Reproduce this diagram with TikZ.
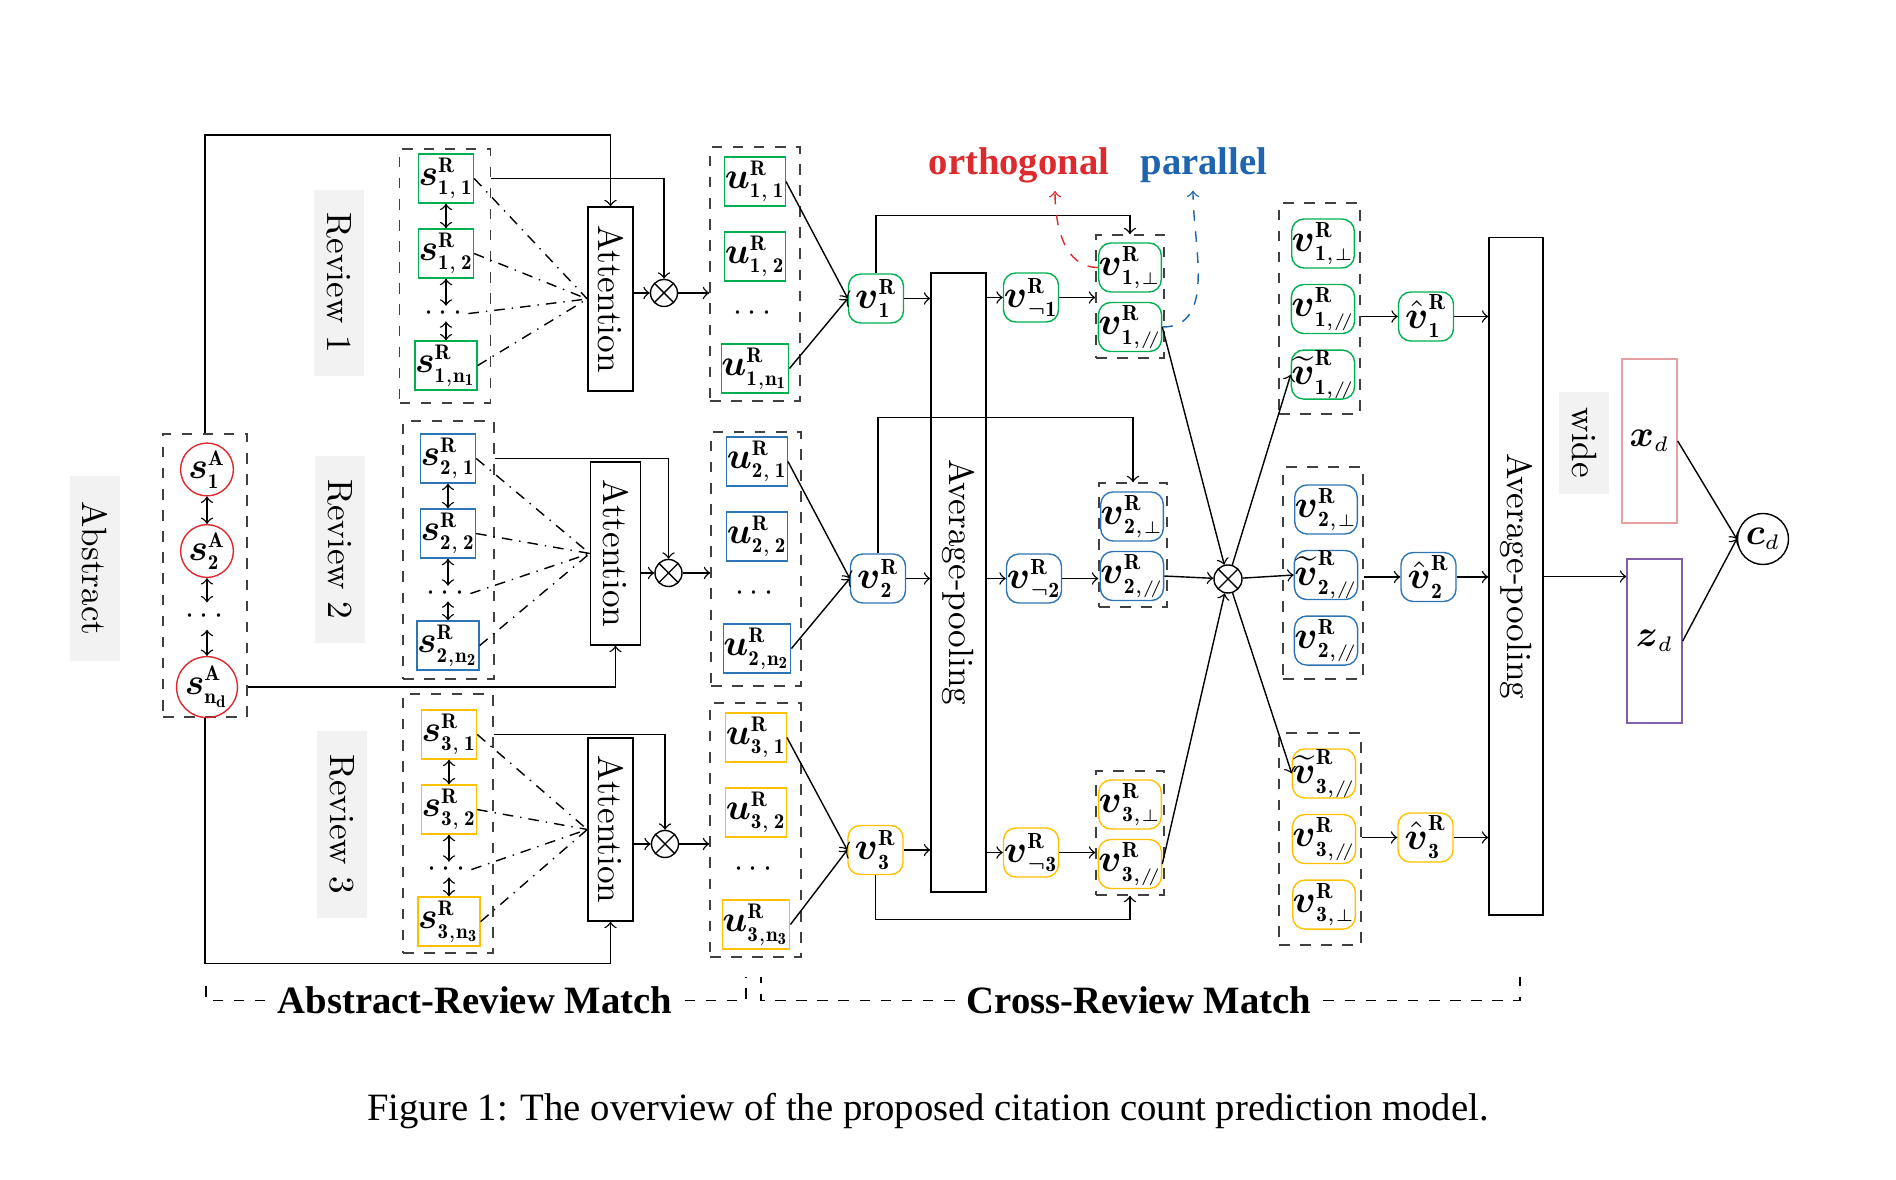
\RequirePackage{fix-cm}
\documentclass[tikz,border=0pt]{standalone}
\usepackage{amsmath}
\usepackage{graphicx}
\usepackage{fontspec}
\usetikzlibrary{positioning}
\newfontfamily\timesfont{Liberation Serif}
\DeclareMathSizes{10.5}{10.5}{6}{4.8}
\DeclareMathSizes{11}{11}{6.2}{4.8}

\definecolor{cgreen}{HTML}{00B050}
\definecolor{cblue}{HTML}{2E75B6}
\definecolor{cyellow}{HTML}{FFC000}
\definecolor{cred}{HTML}{DD2A2E}
\definecolor{cpar}{HTML}{1F64AE}
\definecolor{cpink}{HTML}{E3A09E}
\definecolor{cpurple}{HTML}{7F5FA8}

\newcommand{\pll}{/\!/}
\newcommand{\sA}[1]{$\boldsymbol{s}^{\mathbf{A}}_{\mathbf{#1}}$}
\newcommand{\sR}[1]{$\boldsymbol{s}^{\mathbf{R}}_{\mathbf{#1}}$}
\newcommand{\uR}[1]{$\boldsymbol{u}^{\mathbf{R}}_{\mathbf{#1}}$}
\newcommand{\vR}[1]{$\boldsymbol{v}^{\mathbf{R}}_{\mathbf{#1}}$}
\newcommand{\vRs}[2]{$\boldsymbol{v}^{\mathbf{R}}_{\mathbf{#1},{\scriptscriptstyle #2}}$}
\newcommand{\vtl}[2]{$\widetilde{\boldsymbol{v}}^{\mathbf{R}}_{\mathbf{#1},{\scriptscriptstyle #2}}$}
\newcommand{\vht}[1]{$\hat{\boldsymbol{v}}^{\mathbf{R}}_{\mathbf{#1}}$}

\begin{document}
\begin{tikzpicture}[x=0.01cm, y=-0.01cm, thin, >=to,
  sbox/.style={draw, rectangle, minimum width=0.55cm, minimum height=0.49cm, inner sep=0pt, font=\fontsize{10.5}{12}\selectfont},
  rbox/.style={sbox, rounded corners=3.5pt, font=\fontsize{11}{13}\selectfont},
  sent/.style={draw=cred, circle, minimum size=0.52cm, inner sep=0pt, font=\fontsize{10.5}{12}\selectfont},
  grp/.style={draw=black!75, dashed, inner sep=0pt},
  lab/.style={fill=black!5, inner sep=0pt, minimum width=0.5cm, minimum height=1.86cm, font=\fontsize{10}{12}\selectfont},
  bar/.style={draw, inner sep=0pt, font=\fontsize{10}{12}\selectfont},
  prod/.style={draw, circle, minimum size=0.27cm, inner sep=0pt, path picture={\draw (path picture bounding box.north west) -- (path picture bounding box.south east) (path picture bounding box.south west) -- (path picture bounding box.north east);}},
  dotnode/.style={inner sep=0pt, minimum height=0.14cm, font=\fontsize{9}{11}\selectfont},
  match/.style={fill=white, font=\timesfont\bfseries\fontsize{11}{13}\selectfont},
  note/.style={font=\timesfont\bfseries\fontsize{11}{13}\selectfont}
]
\useasboundingbox (0,0) rectangle (1896,1180);

\node[lab, minimum height=1.85cm] (abst) at (95,568.5) {\rotatebox{-90}{Abstract}};
\node[lab] (rev1) at (339,283) {\rotatebox{-90}{Review 1}};
\node[lab] (rev2) at (340,549.5) {\rotatebox{-90}{Review 2}};
\node[lab] (rev3) at (342,824.5) {\rotatebox{-90}{Review 3}};
\node[lab, minimum height=1.02cm] (wide) at (1584,443) {\rotatebox{-90}{wide}};

\node[grp, minimum width=0.84cm, minimum height=2.83cm] (abs) at (205,575.5) {};
\node[sent] (sA1) at (207,469.5) {\sA{1}};
\node[sent, node distance=0.815cm, below of=sA1] (sA2) {\sA{2}};
\node[dotnode, minimum height=0.26cm, node distance=0.65cm, below of=sA2] (dA) {$\cdots$};
\node[sent, node distance=0.71cm, below of=dA] (sAn) {\sA{n_d}};
\draw[<->] (sA1) -- (sA2);
\draw[<->] (sA2) -- (dA);
\draw[<->] (dA) -- (sAn);

\node[grp, minimum width=0.905cm, minimum height=2.54cm] (g1) at (445,276) {};
\node[sbox, draw=cgreen] (s11) at (446,178.5) {\sR{1,\,1}};
\node[sbox, draw=cgreen, node distance=0.75cm, below of=s11] (s12) {\sR{1,\,2}};
\node[dotnode, node distance=0.6cm, below of=s12] (d1) {$\cdots$};
\node[sbox, draw=cgreen, node distance=0.52cm, below of=d1] (s1n) {\sR{1,n_1}};
\draw[<->] (s11) -- (s12);
\draw[<->] (s12) -- (d1);
\draw[<->] (d1) -- (s1n);

\node[grp, minimum width=0.91cm, minimum height=2.58cm] (g2) at (448.5,550) {};
\node[sbox, draw=cblue] (s21) at (448,458.5) {\sR{2,\,1}};
\node[sbox, draw=cblue, node distance=0.75cm, below of=s21] (s22) {\sR{2,\,2}};
\node[dotnode, node distance=0.6cm, below of=s22] (d2) {$\cdots$};
\node[sbox, draw=cblue, node distance=0.52cm, below of=d2] (s2n) {\sR{2,n_2}};
\draw[<->] (s21) -- (s22);
\draw[<->] (s22) -- (d2);
\draw[<->] (d2) -- (s2n);

\node[grp, minimum width=0.9cm, minimum height=2.59cm] (g3) at (448,823.5) {};
\node[sbox, draw=cyellow] (s31) at (449,734.5) {\sR{3,\,1}};
\node[sbox, draw=cyellow, node distance=0.75cm, below of=s31] (s32) {\sR{3,\,2}};
\node[dotnode, node distance=0.6cm, below of=s32] (d3) {$\cdots$};
\node[sbox, draw=cyellow, node distance=0.52cm, below of=d3] (s3n) {\sR{3,n_3}};
\draw[<->] (s31) -- (s32);
\draw[<->] (s32) -- (d3);
\draw[<->] (d3) -- (s3n);

\node[bar, minimum width=0.45cm, minimum height=1.84cm] (A1) at (610.5,299) {\rotatebox{-90}{Attention}};
\node[bar, minimum width=0.5cm, minimum height=1.83cm] (A2) at (615.5,553.5) {\rotatebox{-90}{Attention}};
\node[bar, minimum width=0.45cm, minimum height=1.83cm] (A3) at (610.5,829.5) {\rotatebox{-90}{Attention}};
\draw[dash dot] (s11.east) -- (A1.west) (s12.east) -- (A1.west) (d1.east) -- (A1.west) (s1n.east) -- (A1.west);
\draw[dash dot] (s21.east) -- (A2.west) (s22.east) -- (A2.west) (d2.east) -- (A2.west) (s2n.east) -- (A2.west);
\draw[dash dot] (s31.east) -- (A3.west) (s32.east) -- (A3.west) (d3.east) -- (A3.west) (s3n.east) -- (A3.west);
\draw[->] (abs.north) -- ++(0,-298) -| (A1.north);
\draw[->] (abs.east |- sAn) -| (A2.south);
\draw[->] (abs.south) -- ++(0,246) -| (A3.south);

\node[prod] (ot1) at (664,293) {};
\node[prod] (ot2) at (668.5,573) {};
\node[prod] (ot3) at (665,844) {};
\draw[->] (g1.east |- s11) -| (ot1);
\draw[->] (g2.east |- s21) -| (ot2);
\draw[->] (g3.east |- s31) -| (ot3);
\draw[->] (A1.east |- ot1) -- (ot1);
\draw[->] (A2.east |- ot2) -- (ot2);
\draw[->] (A3.east |- ot3) -- (ot3);

\node[grp, minimum width=0.9cm, minimum height=2.54cm] (ug1) at (755,274) {};
\node[sbox, draw=cgreen] (u11) at (755,181.5) {\uR{1,\,1}};
\node[sbox, draw=cgreen, node distance=0.75cm, below of=u11] (u12) {\uR{1,\,2}};
\node[dotnode, node distance=0.57cm, below of=u12] (du1) {$\cdots$};
\node[sbox, draw=cgreen, node distance=0.55cm, below of=du1] (u1n) {\uR{1,n_1}};

\node[grp, minimum width=0.9cm, minimum height=2.54cm] (ug2) at (756,559) {};
\node[sbox, draw=cblue] (u21) at (757,461.5) {\uR{2,\,1}};
\node[sbox, draw=cblue, node distance=0.75cm, below of=u21] (u22) {\uR{2,\,2}};
\node[dotnode, node distance=0.57cm, below of=u22] (du2) {$\cdots$};
\node[sbox, draw=cblue, node distance=0.55cm, below of=du2] (u2n) {\uR{2,n_2}};

\node[grp, minimum width=0.91cm, minimum height=2.54cm] (ug3) at (755.5,830) {};
\node[sbox, draw=cyellow] (u31) at (756,737.5) {\uR{3,\,1}};
\node[sbox, draw=cyellow, node distance=0.75cm, below of=u31] (u32) {\uR{3,\,2}};
\node[dotnode, node distance=0.57cm, below of=u32] (du3) {$\cdots$};
\node[sbox, draw=cyellow, node distance=0.55cm, below of=du3] (u3n) {\uR{3,n_3}};

\draw[->] (ot1) -- (ug1.west |- ot1);
\draw[->] (ot2) -- (ug2.west |- ot2);
\draw[->] (ot3) -- (ug3.west |- ot3);

\node[rbox, draw=cgreen] (v1) at (876,298.5) {\vR{1}};
\node[rbox, draw=cblue] (v2) at (878,578.5) {\vR{2}};
\node[rbox, draw=cyellow] (v3) at (875.5,850) {\vR{3}};
\draw[->] (u11.east) -- (v1.west);
\draw[->] (u1n.east) -- (v1.west);
\draw[->] (u21.east) -- (v2.west);
\draw[->] (u2n.east) -- (v2.west);
\draw[->] (u31.east) -- (v3.west);
\draw[->] (u3n.east) -- (v3.west);

\node[bar, minimum width=0.55cm, minimum height=6.19cm] (avg1) at (958.5,582.5) {\rotatebox{-90}{Average-pooling}};
\draw[->] (v1) -- (avg1.west |- v1);
\draw[->] (v2) -- (avg1.west |- v2);
\draw[->] (v3) -- (avg1.west |- v3);

\node[rbox, draw=cgreen] (vn1) at (1031,297.5) {\vR{\neg 1}};
\node[rbox, draw=cblue] (vn2) at (1034,578.5) {\vR{\neg 2}};
\node[rbox, draw=cyellow] (vn3) at (1031,852.5) {\vR{\neg 3}};
\draw[->] (avg1.east |- vn1) -- (vn1);
\draw[->] (avg1.east |- vn2) -- (vn2);
\draw[->] (avg1.east |- vn3) -- (vn3);

\node[grp, minimum width=0.68cm, minimum height=1.23cm] (pg1) at (1130,296.5) {};
\node[rbox, draw=cgreen] (vp1) at (1130,267.5) {\vRs{1}{\perp}};
\node[rbox, draw=cgreen, node distance=0.595cm, below of=vp1] (vl1) {\vRs{1}{\pll}};
\node[grp, minimum width=0.68cm, minimum height=1.24cm] (pg2) at (1133,545) {};
\node[rbox, draw=cblue] (vp2) at (1132,516.5) {\vRs{2}{\perp}};
\node[rbox, draw=cblue, node distance=0.595cm, below of=vp2] (vl2) {\vRs{2}{\pll}};
\node[grp, minimum width=0.68cm, minimum height=1.24cm] (pg3) at (1130,833) {};
\node[rbox, draw=cyellow] (vp3) at (1130,804.5) {\vRs{3}{\perp}};
\node[rbox, draw=cyellow, node distance=0.595cm, below of=vp3] (vl3) {\vRs{3}{\pll}};
\draw[->] (vn1) -- (pg1.west |- vn1);
\draw[->] (vn2) -- (pg2.west |- vn2);
\draw[->] (vn3) -- (pg3.west |- vn3);
\draw[->] (v1.north) -- ++(0,-58) -| (pg1.north);
\draw[->] (v2.north) -- ++(0,-136) -| (pg2.north);
\draw[->] (v3.south) -- ++(0,44) -| (pg3.south);

\node[note, anchor=base, text=cred] (ortho) at (1019,175) {orthogonal};
\node[note, anchor=base, text=cpar] (para) at (1204,175) {parallel};
\draw[->, dashed, cred] (vp1.west) to[out=180, in=-90] ([xshift=0.36cm, yshift=0.05cm]ortho.south);
\draw[->, dashed, cpar] (vl1.east) to[out=0, in=-90] ([xshift=-0.11cm, yshift=0.05cm]para.south);

\node[prod, minimum size=0.28cm] (otc) at (1228,579) {};
\draw[->] (vl1.east) -- (otc);
\draw[->] (vl2.east) -- (otc);
\draw[->] (vl3.east) -- (otc);

\node[grp, minimum width=0.81cm, minimum height=2.11cm] (rg1) at (1319.5,308.5) {};
\node[rbox, draw=cgreen] (rp1) at (1323,243.5) {\vRs{1}{\perp}};
\node[rbox, draw=cgreen, node distance=0.655cm, below of=rp1] (rl1) {\vRs{1}{\pll}};
\node[rbox, draw=cgreen, node distance=0.655cm, below of=rl1] (rt1) {\vtl{1}{\pll}};
\node[grp, minimum width=0.8cm, minimum height=2.12cm] (rg2) at (1323,573) {};
\node[rbox, draw=cblue] (rp2) at (1326,509.5) {\vRs{2}{\perp}};
\node[rbox, draw=cblue, node distance=0.655cm, below of=rp2] (rt2) {\vtl{2}{\pll}};
\node[rbox, draw=cblue, node distance=0.655cm, below of=rt2] (rl2) {\vRs{2}{\pll}};
\node[grp, minimum width=0.82cm, minimum height=2.12cm] (rg3) at (1320,839) {};
\node[rbox, draw=cyellow] (rt3) at (1324,773.5) {\vtl{3}{\pll}};
\node[rbox, draw=cyellow, node distance=0.655cm, below of=rt3] (rl3) {\vRs{3}{\pll}};
\node[rbox, draw=cyellow, node distance=0.655cm, below of=rl3] (rp3) {\vRs{3}{\perp}};
\draw[->] (otc) -- (rt1.west);
\draw[->] (otc) -- (rt2.west);
\draw[->] (otc) -- (rt3.west);

\node[rbox, draw=cgreen] (h1) at (1426,316.5) {\vht{1}};
\node[rbox, draw=cblue] (h2) at (1428.5,577) {\vht{2}};
\node[rbox, draw=cyellow] (h3) at (1425.5,837.5) {\vht{3}};
\draw[->] (rg1.east |- h1) -- (h1);
\draw[->] (rg2.east |- h2) -- (h2);
\draw[->] (rg3.east |- h3) -- (h3);

\node[bar, minimum width=0.54cm, minimum height=6.77cm] (avg2) at (1516,576.5) {\rotatebox{-90}{Average-pooling}};
\draw[->] (h1) -- (avg2.west |- h1);
\draw[->] (h2) -- (avg2.west |- h2);
\draw[->] (h3) -- (avg2.west |- h3);

\node[sbox, draw=cpink, minimum height=1.64cm] (xd) at (1649.5,441) {$\boldsymbol{x}_{d}$};
\node[sbox, draw=cpurple, minimum height=1.64cm] (zd) at (1654.5,641) {$\boldsymbol{z}_{d}$};
\node[draw, circle, minimum size=0.51cm, inner sep=0pt, font=\fontsize{10.5}{12}\selectfont] (cd) at (1763,539) {$\boldsymbol{c}_{d}$};
\draw[->] (avg2.east) -- (avg2.east -| zd.west);
\draw[->] (xd.east) -- (cd.west);
\draw[->] (zd.east) -- (cd.west);

\node[match, anchor=base] (arm) at (475,1014) {Abstract-Review Match};
\node[match, anchor=base] (crm) at (1139,1014) {Cross-Review Match};
\coordinate (armL) at (206,977);
\coordinate (armR) at (746,977);
\coordinate (crmL) at (761,977);
\coordinate (crmR) at (1520,977);
\draw[dashed] (arm.west) -| (armL) (arm.east) -| (armR) (crm.west) -| (crmL) (crm.east) -| (crmR);

\node[anchor=base, font=\timesfont\fontsize{11}{13}\selectfont] (cap) at (928,1121) {Figure 1: The overview of the proposed citation count prediction model.};
\end{tikzpicture}
\end{document}
